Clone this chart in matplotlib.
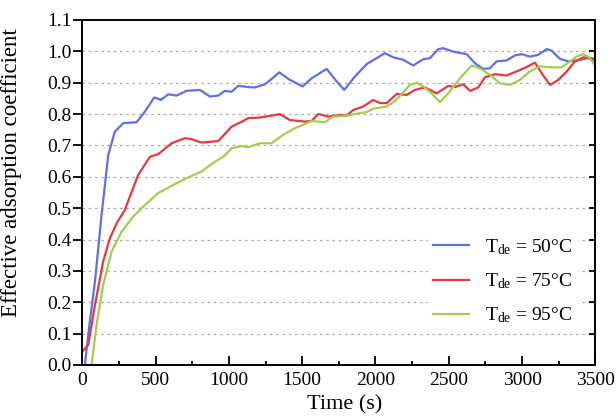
import numpy as np
import matplotlib
matplotlib.use("Agg")
import matplotlib.pyplot as plt
from matplotlib.ticker import MultipleLocator

plt.rcParams["font.family"] = ["Liberation Serif", "DejaVu Serif"]
plt.rcParams["mathtext.fontset"] = "custom"
plt.rcParams["mathtext.rm"] = "Liberation Serif"

# curves: time (s) and effective adsorption coefficient
t_50 = [18, 50, 87, 132, 178, 223, 280, 371, 428, 491, 537, 587, 643, 712, 803, 871, 928, 973,
        1019, 1064, 1132, 1178, 1246, 1292, 1344, 1416, 1503, 1564, 1667, 1735, 1787, 1860, 1939,
        1996, 2064, 2121, 2189, 2257, 2326, 2371, 2428, 2462, 2530, 2622, 2678, 2735, 2780, 2826,
        2894, 2951, 2997, 3053, 3110, 3167, 3201, 3258, 3314, 3383, 3440, 3500]
v_50 = [0.0, 0.13, 0.266, 0.478, 0.67, 0.744, 0.771, 0.774, 0.808, 0.853, 0.845, 0.863, 0.859,
        0.874, 0.877, 0.856, 0.859, 0.874, 0.871, 0.89, 0.886, 0.885, 0.895, 0.912, 0.933, 0.909,
        0.888, 0.914, 0.944, 0.904, 0.877, 0.92, 0.959, 0.975, 0.994, 0.981, 0.973, 0.955, 0.975,
        0.978, 1.007, 1.01, 0.999, 0.991, 0.962, 0.944, 0.946, 0.968, 0.971, 0.987, 0.991, 0.983,
        0.989, 1.007, 1.002, 0.976, 0.968, 0.971, 0.978, 0.976]

t_75 = [0, 41, 87, 143, 189, 235, 291, 325, 382, 462, 518, 610, 700, 746, 814, 928, 1019, 1098,
        1132, 1212, 1292, 1348, 1416, 1519, 1564, 1610, 1678, 1757, 1803, 1848, 1916, 1984, 2030,
        2076, 2144, 2212, 2269, 2337, 2417, 2496, 2542, 2598, 2644, 2701, 2746, 2815, 2894, 2963,
        3031, 3087, 3133, 3190, 3246, 3304, 3360, 3417, 3474, 3500]
v_75 = [0.042, 0.064, 0.191, 0.33, 0.404, 0.452, 0.494, 0.537, 0.606, 0.664, 0.672, 0.707, 0.723,
        0.72, 0.709, 0.714, 0.76, 0.778, 0.787, 0.789, 0.795, 0.8, 0.781, 0.776, 0.778, 0.8, 0.792,
        0.797, 0.795, 0.813, 0.824, 0.845, 0.835, 0.835, 0.864, 0.861, 0.877, 0.885, 0.866, 0.89,
        0.886, 0.895, 0.874, 0.885, 0.917, 0.927, 0.923, 0.936, 0.95, 0.964, 0.93, 0.893, 0.909,
        0.936, 0.968, 0.981, 0.978, 0.968]

t_95 = [64, 98, 143, 200, 269, 348, 428, 518, 621, 723, 814, 905, 962, 1019, 1087, 1132, 1212,
        1292, 1371, 1451, 1519, 1564, 1655, 1712, 1803, 1894, 1939, 1984, 2076, 2133, 2167, 2235,
        2281, 2326, 2383, 2439, 2496, 2576, 2656, 2712, 2780, 2849, 2917, 2985, 3053, 3122, 3190,
        3270, 3326, 3372, 3413, 3452, 3487, 3500]
v_95 = [0.0, 0.128, 0.255, 0.361, 0.425, 0.473, 0.51, 0.548, 0.574, 0.598, 0.617, 0.648, 0.664,
        0.691, 0.698, 0.694, 0.707, 0.707, 0.734, 0.755, 0.768, 0.778, 0.774, 0.792, 0.795, 0.803,
        0.806, 0.817, 0.824, 0.842, 0.858, 0.893, 0.9, 0.888, 0.866, 0.838, 0.866, 0.914, 0.955,
        0.946, 0.925, 0.898, 0.893, 0.909, 0.936, 0.952, 0.949, 0.949, 0.968, 0.983, 0.991, 0.983,
        0.962, 0.948]

labels = [r"$\mathregular{T_{de}}$ = 50°C", r"$\mathregular{T_{de}}$ = 75°C", r"$\mathregular{T_{de}}$ = 95°C"]
colors = ["#5f6fe6", "#e6393d", "#a7cb52"]

fig = plt.figure(figsize=(6.16, 4.16), dpi=100)
ax = fig.add_axes([0.1334, 0.1226, 0.8333, 0.8294])

# dotted horizontal grid
for g in np.arange(0.1, 1.05, 0.1):
    ax.axhline(g, color="#a8a8a8", lw=0.9, ls=(0, (2, 3)), zorder=0)

for t, v, lab, c in zip([t_50, t_75, t_95], [v_50, v_75, v_95], labels, colors):
    ax.plot(t, v, color=c, lw=1.6, label=lab)

ax.set_xlim(0, 3500)
ax.set_ylim(0, 1.1)
ax.xaxis.set_major_locator(MultipleLocator(500))
ax.xaxis.set_minor_locator(MultipleLocator(250))
ax.yaxis.set_major_locator(MultipleLocator(0.1))
ax.yaxis.set_major_formatter(plt.FuncFormatter(lambda y, p: "%.1f" % y))

ax.tick_params(axis="x", which="major", direction="in", length=6.5, width=1.3, labelsize=14, pad=5)
ax.tick_params(axis="x", which="minor", direction="in", length=3, width=1.3)
ax.tick_params(axis="y", which="major", direction="out", length=6.5, width=1.3, labelsize=14, pad=1)
for sp in ax.spines.values():
    sp.set_linewidth(1.4)

# inward ticks on the right axis
ax_r = ax.twinx()
ax_r.set_ylim(0, 1.1)
ax_r.yaxis.set_major_locator(MultipleLocator(0.1))
ax_r.tick_params(axis="y", direction="in", length=4, width=1.3, labelright=False)
for sp in ax_r.spines.values():
    sp.set_visible(False)

ax.set_xlabel("Time (s)", fontsize=16)
ax.set_ylabel("Effective adsorption coefficient", fontsize=16.5)
ax.xaxis.set_label_coords(0.511, -0.088, transform=ax.transAxes)
ax.yaxis.set_label_coords(-0.1175, 0.557, transform=ax.transAxes)

leg = ax.legend(loc="lower right", bbox_to_anchor=(0.985, 0.07), frameon=True, fontsize=14,
                handlelength=1.85, handletextpad=0.8, labelspacing=0.75, borderpad=0.3)
leg.get_frame().set_edgecolor("none")
leg.get_frame().set_facecolor("white")
leg.get_frame().set_alpha(1)

fig.savefig("out.png", dpi=100)
